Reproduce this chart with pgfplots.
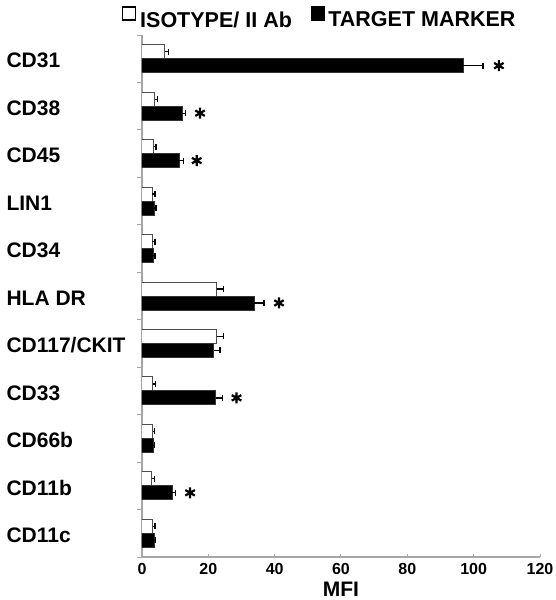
\documentclass[border=0pt]{standalone}
\usepackage{fontspec}
\setmainfont{Liberation Sans}
\usepackage{pgfplots}
\pgfplotsset{compat=1.18}
\begin{document}
\begin{tikzpicture}
\path[use as bounding box] (-142pt,-43pt) rectangle (414pt,557pt);
\begin{axis}[
  at={(0,0)}, anchor=south west,
  scale only axis, width=398pt, height=522pt,
  xbar, bar width=14pt,
  xmin=0, xmax=120, xtick={0,20,...,120},
  ymin=-0.5, ymax=10.5, y dir=reverse,
  ytick={0,...,10},
  yticklabels={CD31,CD38,CD45,LIN1,CD34,HLA DR,CD117/CKIT,CD33,CD66b,CD11b,CD11c},
  minor ytick={-0.5,0.5,...,10.5},
  every major y tick/.style={draw=none},
  every minor y tick/.style={draw=gray!70, line width=1pt},
  minor tick length=5pt,
  major tick length=3pt,
  every major x tick/.style={draw=gray!70, line width=1pt},
  xtick align=inside, ytick align=outside,
  axis lines*=left,
  axis line style={draw=gray!70, line width=1.2pt},
  /pgf/number format/assume math mode=true,
  yticklabel style={font=\fontsize{21}{25}\bfseries, anchor=west, xshift=-136pt, yshift=-2pt},
  xticklabel style={font=\fontsize{16}{19}\bfseries, inner sep=0pt, anchor=north, yshift=-6pt},
  xlabel={MFI},
  xlabel style={font=\fontsize{21}{25}\bfseries, at={(axis description cs:0.5,0)}, anchor=north, inner sep=0pt, yshift=-24.5pt},
  legend columns=2,
  legend style={draw=none, font=\fontsize{21.5}{25}\bfseries,
    at={(axis description cs:0.445,1.0326)}, anchor=center,
    /tikz/every even column/.append style={column sep=18pt},
    nodes={inner sep=1pt}},
  legend image code/.code={\draw[#1, line width=1.5pt, draw=black] (0pt,0pt) rectangle (13pt,13pt);},
  error bars/error bar style={black, line width=1.2pt},
  error bars/error mark options={black, rotate=90, mark size=3pt, line width=1.2pt},
]
\addplot[fill=white, draw=black!70, line width=1pt, bar shift=7pt,
  error bars/.cd, x dir=plus, x explicit] coordinates {
  (6.9,0) +- (1.2,0)
  (3.9,1) +- (0.8,0)
  (3.6,2) +- (0.6,0)
  (3.1,3) +- (0.8,0)
  (3.1,4) +- (0.8,0)
  (22.5,5) +- (2.0,0)
  (22.5,6) +- (2.0,0)
  (3.2,7) +- (0.8,0)
  (3.2,8) +- (0.6,0)
  (3.0,9) +- (0.8,0)
  (3.2,10) +- (0.7,0)
};
\addlegendentry{\hspace{3pt}ISOTYPE/ II Ab}
\addplot[fill=black, draw=black!80, line width=1pt, bar shift=-7pt,
  error bars/.cd, x dir=plus, x explicit] coordinates {
  (96.9,0) +- (5.9,0)
  (12.2,1) +- (0.8,0)
  (11.3,2) +- (1.2,0)
  (3.7,3) +- (0.5,0)
  (3.4,4) +- (0.5,0)
  (33.8,5) +- (3.0,0)
  (21.7,6) +- (1.8,0)
  (22.3,7) +- (2.0,0)
  (3.4,8) +- (0.3,0)
  (9.1,9) +- (1.0,0)
  (3.7,10) +- (0.4,0)
};
\addlegendentry{\hspace{2pt}TARGET MARKER}
\addplot[xbar=0pt, draw=none, only marks, mark=asterisk, mark size=5.5pt, mark options={line width=2.2pt, black}, forget plot]
  coordinates {(107.6,0.147) (17.5,1.147) (16.5,2.147) (41.3,5.147) (28.5,7.147) (14.5,9.147)};
\end{axis}
\end{tikzpicture}
\end{document}
